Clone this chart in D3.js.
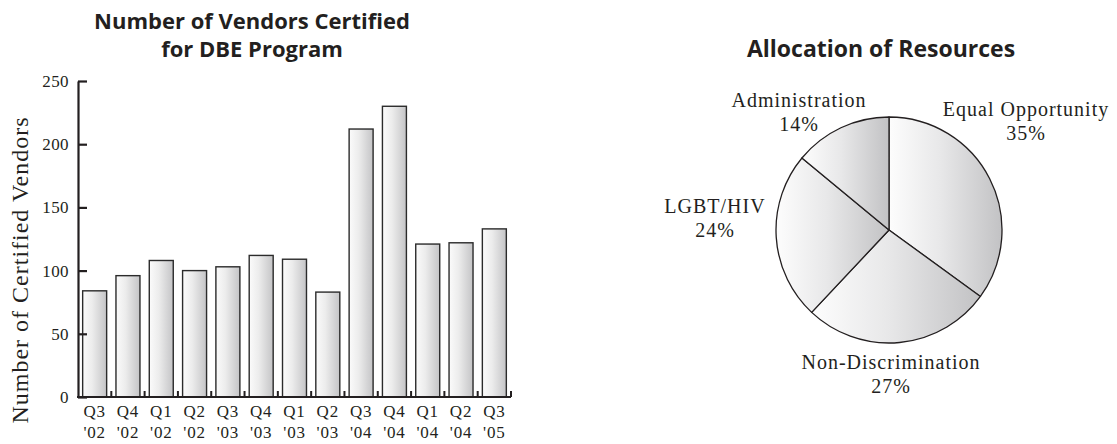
<!DOCTYPE html>
<html>
<head>
<meta charset="utf-8">
<script src="https://cdn.jsdelivr.net/npm/d3@7"></script>
<style>
  body { margin: 0; background: #fff; }
  svg { display: block; }
  .title { font-family: "Open Sans", sans-serif; font-weight: 700; font-size: 22px; fill: #231f20; }
  .serif { font-family: "Liberation Serif", serif; fill: #231f20; }
</style>
</head>
<body>
<svg width="1117" height="444"></svg>
<script>
const width = 1117, height = 444;
const svg = d3.select("svg");

// bar chart data
const quarters = ["Q3", "Q4", "Q1", "Q2", "Q3", "Q4", "Q1", "Q2", "Q3", "Q4", "Q1", "Q2", "Q3"];
const years = ["'02", "'02", "'02", "'02", "'03", "'03", "'03", "'03", "'04", "'04", "'04", "'04", "'05"];
const vendors = [84, 96, 108, 100, 103, 112, 109, 83, 212, 230, 121, 122, 133];
const yTicks = [0, 50, 100, 150, 200, 250];

// pie data
const pieLabels = ["Equal Opportunity", "Non-Discrimination", "LGBT/HIV", "Administration"];
const pieShares = [35, 27, 24, 14];

// gradients
const defs = svg.append("defs");
const barGrad = defs.append("linearGradient").attr("id", "barGrad");
barGrad.append("stop").attr("offset", "0%").attr("stop-color", "#fbfbfb");
barGrad.append("stop").attr("offset", "40%").attr("stop-color", "#ececec");
barGrad.append("stop").attr("offset", "100%").attr("stop-color", "#c4c4c6");

const pieGrad = defs.append("linearGradient").attr("id", "pieGrad");
pieGrad.append("stop").attr("offset", "0%").attr("stop-color", "#fdfdfd");
pieGrad.append("stop").attr("offset", "45%").attr("stop-color", "#e8e8e9");
pieGrad.append("stop").attr("offset", "100%").attr("stop-color", "#c2c2c4");

// ---------- Bar chart ----------
const x = d3.scaleBand()
  .domain(d3.range(vendors.length))
  .range([78, 511])
  .paddingInner(0.28)
  .paddingOuter(0.14);

const y = d3.scaleLinear().domain([0, 250]).range([397, 81]);

svg.append("text").attr("class", "title")
  .attr("text-anchor", "middle")
  .selectAll("tspan")
  .data(["Number of Vendors Certified", "for DBE Program"])
  .join("tspan")
  .attr("x", 252)
  .attr("y", (d, i) => 29 + i * 28)
  .text(d => d);

svg.append("g")
  .selectAll("rect")
  .data(vendors)
  .join("rect")
  .attr("x", (d, i) => x(i))
  .attr("y", d => y(d))
  .attr("width", x.bandwidth())
  .attr("height", d => y(0) - y(d))
  .attr("fill", "url(#barGrad)")
  .attr("stroke", "#2b2b2b")
  .attr("stroke-width", 1.4);

// y axis
const yAxis = svg.append("g")
  .attr("transform", "translate(78,0)")
  .call(d3.axisLeft(y).tickValues(yTicks).tickSize(-9).tickPadding(9).tickSizeOuter(0));
yAxis.select(".domain").attr("stroke", "#231f20").attr("stroke-width", 2.2);
yAxis.selectAll(".tick line").attr("stroke", "#231f20").attr("stroke-width", 2.2);
yAxis.selectAll(".tick text")
  .attr("class", "serif")
  .attr("font-size", 17)
  .attr("letter-spacing", 0.4)
  .attr("fill", "#231f20");

// x axis
const xAxisG = svg.append("g");
xAxisG.append("line")
  .attr("x1", x.range()[0] - 1).attr("x2", x.range()[1])
  .attr("y1", y(0)).attr("y2", y(0))
  .attr("stroke", "#231f20").attr("stroke-width", 2.2);
xAxisG.selectAll(".sep")
  .data(d3.range(vendors.length))
  .join("line")
  .attr("class", "sep")
  .attr("x1", i => x(i) + x.bandwidth() + (x.step() - x.bandwidth()) / 2)
  .attr("x2", i => x(i) + x.bandwidth() + (x.step() - x.bandwidth()) / 2)
  .attr("y1", y(0))
  .attr("y2", y(0) - 6)
  .attr("stroke", "#231f20").attr("stroke-width", 2);

const xLab = xAxisG.selectAll(".xlab")
  .data(d3.range(vendors.length))
  .join("text")
  .attr("class", "xlab serif")
  .attr("text-anchor", "middle")
  .attr("font-size", 17)
  .attr("letter-spacing", 0.8);
xLab.append("tspan")
  .attr("x", i => x(i) + x.bandwidth() / 2)
  .attr("y", 417)
  .text(i => quarters[i]);
xLab.append("tspan")
  .attr("x", i => x(i) + x.bandwidth() / 2)
  .attr("y", 438)
  .text(i => years[i]);

svg.append("text")
  .attr("class", "serif")
  .attr("font-size", 24)
  .attr("letter-spacing", 1.0)
  .attr("text-anchor", "middle")
  .attr("transform", "translate(28,270) rotate(-90)")
  .text("Number of Certified Vendors");

// ---------- Pie chart ----------
const cx = 889, cy = 230, radius = 113;

svg.append("text").attr("class", "title")
  .attr("text-anchor", "middle")
  .attr("x", 881).attr("y", 57)
  .attr("font-size", 23)
  .style("font-size", "23px")
  .text("Allocation of Resources");

const pie = d3.pie().sort(null).value(d => d);
const arc = d3.arc().innerRadius(0).outerRadius(radius);
const arcs = pie(pieShares);

const pieG = svg.append("g").attr("transform", `translate(${cx},${cy})`);
pieG.selectAll("path")
  .data(arcs)
  .join("path")
  .attr("d", arc)
  .attr("fill", "url(#pieGrad)")
  .attr("stroke", "#231f20")
  .attr("stroke-width", 1.3)
  .attr("stroke-linejoin", "round");

// label placement relative to pie centre (first line baseline)
const labelOffsets = [[137, -114], [2, 139], [-174, -17], [-90, -123]];

const lab = pieG.selectAll(".plab")
  .data(arcs)
  .join("text")
  .attr("class", "plab serif")
  .attr("text-anchor", "middle")
  .attr("font-size", 20)
  .attr("letter-spacing", 1.0);
lab.append("tspan")
  .attr("x", (d, i) => labelOffsets[i][0])
  .attr("y", (d, i) => labelOffsets[i][1])
  .text((d, i) => pieLabels[i]);
lab.append("tspan")
  .attr("x", (d, i) => labelOffsets[i][0])
  .attr("y", (d, i) => labelOffsets[i][1] + 24)
  .text(d => d.data + "%");
</script>
</body>
</html>
